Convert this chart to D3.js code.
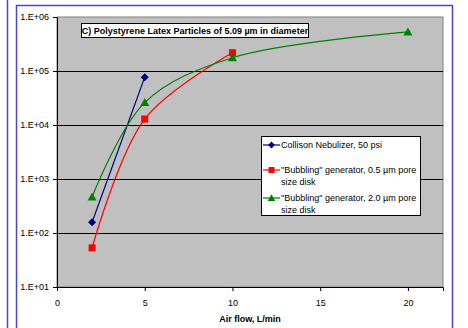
<!DOCTYPE html>
<html>
<head>
<meta charset="utf-8">
<script src="https://cdn.jsdelivr.net/npm/d3@7"></script>
<style>
  body { margin: 0; background: #fff; }
  svg { display: block; font-family: "Liberation Sans", Arial, sans-serif; }
</style>
</head>
<body>
<div id="chart"></div>
<script>
// data
var collisonX = [2, 5];
var collisonY = [158, 77000];
var bubble05X = [2, 5, 10];
var bubble05Y = [53, 12900, 218000];
var bubble20X = [2, 5, 10, 20];
var bubble20Y = [465, 26000, 176000, 530000];
var xTicks = [0, 5, 10, 15, 20];
var yTicks = [1e1, 1e2, 1e3, 1e4, 1e5, 1e6];
var seriesNames = ["Collison Nebulizer, 50 psi",
  "\"Bubbling\" generator, 0.5 \u00b5m pore|size disk",
  "\"Bubbling\" generator, 2.0 \u00b5m pore|size disk"];

var W = 468, H = 328;
var margin = {top: 17, right: 25, bottom: 41, left: 57},
    width = W - margin.left - margin.right,
    height = H - margin.top - margin.bottom;

var svg = d3.select("#chart")
  .append("svg")
    .attr("width", W)
    .attr("height", H);

// outer frame
svg.append("line")
  .attr("x1", 7.5).attr("x2", 7.5).attr("y1", 0).attr("y2", H)
  .attr("stroke", "#4646d2").attr("stroke-width", 1.5);
svg.append("path")
  .attr("d", "M16.5," + H + "V5.5H452.5V" + H)
  .attr("fill", "none").attr("stroke", "#4646d2").attr("stroke-width", 1.5);

var g = svg.append("g")
  .attr("transform", "translate(" + margin.left + "," + margin.top + ")");

var x = d3.scaleLinear().domain([0, 22]).range([0, width]);
var y = d3.scaleLog().domain([1e1, 1e6]).range([height, 0]);

// plot area
g.append("rect")
  .attr("width", width).attr("height", height)
  .attr("fill", "#c0c0c0").attr("stroke", "#808080").attr("stroke-width", 1);

// gridlines
g.selectAll(".grid")
  .data(yTicks.slice(1, -1))
  .enter().append("line")
    .attr("x1", 0).attr("x2", width)
    .attr("y1", function(d) { return Math.round(y(d)) + 0.5; })
    .attr("y2", function(d) { return Math.round(y(d)) + 0.5; })
    .attr("stroke", "#000").attr("stroke-width", 1);

// axes
var yAxis = g.append("g")
  .call(d3.axisLeft(y).tickValues(yTicks).tickSizeOuter(0).tickSize(4)
    .tickFormat(function(d) { return "1.E+" + d3.format("02")(Math.round(Math.log10(d))); }));
var xAxis = g.append("g")
  .attr("transform", "translate(0," + height + ")")
  .call(d3.axisBottom(x).tickValues(xTicks).tickSizeOuter(0).tickSize(4).tickFormat(d3.format("d")));
[yAxis, xAxis].forEach(function(a) {
  a.select(".domain").attr("stroke", "#000");
  a.selectAll("text").attr("font-size", 9).attr("font-family", "Liberation Sans, Arial, sans-serif").attr("fill", "#000");
});
yAxis.selectAll("text").attr("dx", "-1");
xAxis.selectAll("text").attr("dy", "1.3em");

// axis title
svg.append("text")
  .attr("x", 250).attr("y", 322)
  .attr("text-anchor", "middle")
  .attr("font-size", 9).attr("font-weight", "bold")
  .text("Air flow, L/min");

// series
var clip = g.append("clipPath").attr("id", "clip")
  .append("rect").attr("width", width).attr("height", height);

function pts(xs, ys) { return xs.map(function(d, i) { return [x(d), y(ys[i])]; }); }

var series = [
  {p: pts(collisonX, collisonY), color: "#000080", shape: "diamond", curve: d3.curveLinear},
  {p: pts(bubble05X, bubble05Y), color: "#ff0000", shape: "square", curve: d3.curveCatmullRom.alpha(0.5)},
  {p: pts(bubble20X, bubble20Y), color: "#008000", shape: "triangle", curve: d3.curveCatmullRom.alpha(0.5)}
];

function marker(sel, shape, color) {
  if (shape === "diamond") {
    sel.append("path").attr("d", "M0,-4L4,0L0,4L-4,0Z").attr("fill", color);
  } else if (shape === "square") {
    sel.append("rect").attr("x", -3.5).attr("y", -3.5).attr("width", 7).attr("height", 7).attr("fill", color);
  } else {
    sel.append("path").attr("d", "M0,-4.5L4.5,3.5L-4.5,3.5Z").attr("fill", color);
  }
}

series.forEach(function(s) {
  g.append("path")
    .attr("d", d3.line().curve(s.curve)(s.p))
    .attr("fill", "none").attr("stroke", s.color).attr("stroke-width", 1.2)
    .attr("clip-path", "url(#clip)");
});
series.forEach(function(s) {
  s.p.forEach(function(q) {
    marker(g.append("g").attr("transform", "translate(" + q[0] + "," + q[1] + ")"), s.shape, s.color);
  });
});

// title box
var tg = svg.append("g");
tg.append("rect").attr("x", 81.5).attr("y", 23.5).attr("width", 227).attr("height", 14)
  .attr("fill", "#fff").attr("stroke", "#000");
tg.append("text").attr("x", 195).attr("y", 34).attr("text-anchor", "middle")
  .attr("font-size", 9).attr("font-weight", "bold")
  .text("C) Polystyrene Latex Particles of 5.09 \u00b5m in diameter");

// legend
var lg = svg.append("g");
lg.append("rect").attr("x", 261.5).attr("y", 136.5).attr("width", 159).attr("height", 79)
  .attr("fill", "#fff").attr("stroke", "#000");
var legY = [145, 170, 198];
series.forEach(function(s, i) {
  var ly = legY[i];
  lg.append("line").attr("x1", 263).attr("x2", 280).attr("y1", ly).attr("y2", ly)
    .attr("stroke", s.color).attr("stroke-width", 1.2);
  marker(lg.append("g").attr("transform", "translate(271.5," + ly + ") scale(0.85)"), s.shape, s.color);
  var lines = seriesNames[i].split("|");
  var t = lg.append("text").attr("x", 281).attr("y", ly + 3).attr("font-size", 9);
  lines.forEach(function(l, j) {
    t.append("tspan").attr("x", 281).attr("dy", j === 0 ? 0 : 12).text(l);
  });
});
</script>
</body>
</html>
